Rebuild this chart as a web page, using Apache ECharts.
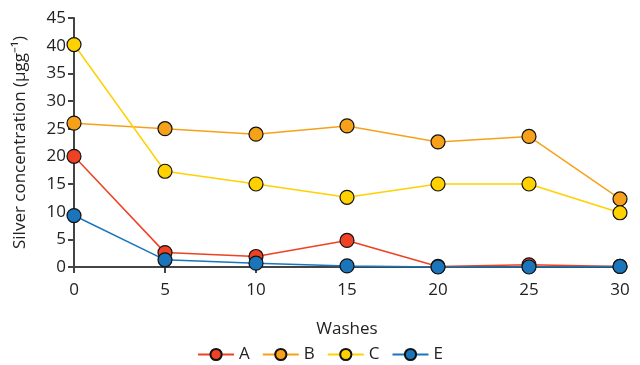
<!DOCTYPE html>
<html><head><meta charset="utf-8">
<script src="https://cdn.jsdelivr.net/npm/echarts@6/dist/echarts.min.js"></script>
<style>html,body{margin:0;padding:0;background:#fff}#c{width:640px;height:365px}</style>
</head><body><div id="c"></div>
<script>
var washes = [0, 5, 10, 15, 20, 25, 30];
var seriesA = [20, 2.6, 1.9, 4.8, 0.1, 0.4, 0.1];
var seriesB = [26, 25, 24, 25.5, 22.6, 23.6, 12.3];
var seriesC = [40.2, 17.3, 15, 12.6, 15, 15, 9.8];
var seriesE = [9.3, 1.3, 0.7, 0.2, 0, 0, 0.1];
var names = ['A', 'B', 'C', 'E'];
var colors = ['#EF4123', '#F7A11A', '#FFD100', '#1A75BB'];
var allData = [seriesA, seriesB, seriesC, seriesE];
var font = 'Open Sans';
var chart = echarts.init(document.getElementById('c'));
chart.setOption({
  animation: false,
  textStyle: {fontFamily: font},
  grid: {left: 74, right: 20, top: 18, bottom: 98},
  legend: {
    top: 346, left: 'center', padding: 0,
    itemWidth: 36, itemHeight: 14, itemGap: 12,
    textStyle: {fontFamily: font, fontSize: 17, color: '#222'},
    data: names
  },
  xAxis: {
    type: 'value', min: 0, max: 30, interval: 5,
    name: 'Washes', nameLocation: 'middle', nameGap: 54,
    nameTextStyle: {fontFamily: font, fontSize: 17, color: '#222'},
    axisLine: {show: true, lineStyle: {color: '#444', width: 2}},
    axisTick: {show: true, length: 6, lineStyle: {color: '#444', width: 2}},
    axisLabel: {fontFamily: font, fontSize: 17, color: '#222', margin: 15},
    splitLine: {show: false}
  },
  yAxis: {
    type: 'value', min: 0, max: 45, interval: 5,
    name: 'Silver concentration (μgg⁻¹)', nameLocation: 'middle', nameGap: 45,
    nameTextStyle: {fontFamily: font, fontSize: 17, color: '#222'},
    axisLine: {show: true, lineStyle: {color: '#444', width: 2}},
    axisTick: {show: true, length: 6, lineStyle: {color: '#444', width: 2}},
    axisLabel: {fontFamily: font, fontSize: 17, color: '#222', margin: 8},
    splitLine: {show: false}
  },
  series: names.map(function(n, i) {
    return {
      name: n, type: 'line',
      data: washes.map(function(w, j) { return [w, allData[i][j]]; }),
      symbol: 'circle', symbolSize: 14,
      lineStyle: {color: colors[i], width: 1.5},
      itemStyle: {color: colors[i], borderColor: '#111', borderWidth: 1.2},
      z: 2 + i
    };
  })
});
</script></body></html>
